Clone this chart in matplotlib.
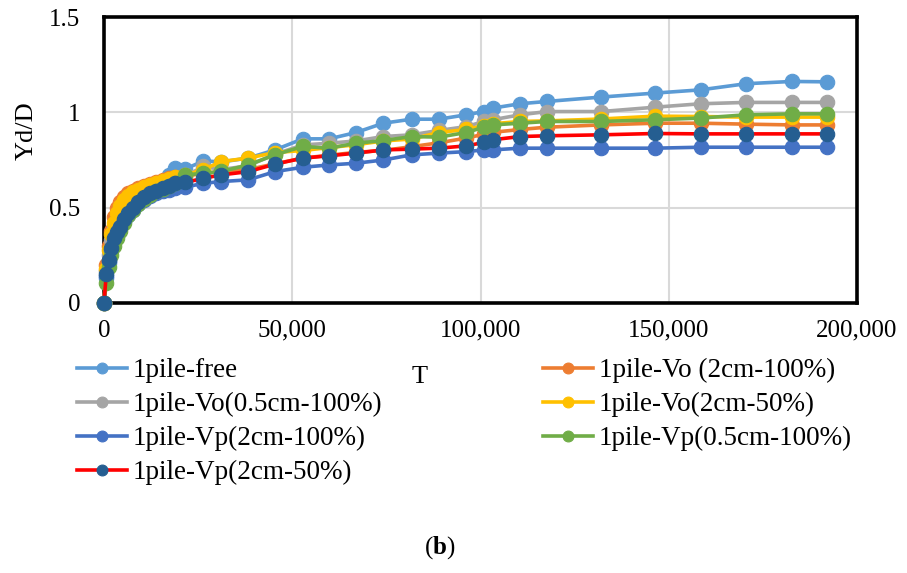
import matplotlib
matplotlib.use("Agg")
import matplotlib.pyplot as plt

plt.rcParams['font.family'] = ['Liberation Serif', 'DejaVu Serif']
plt.rcParams['mathtext.fontset'] = 'custom'
plt.rcParams['mathtext.rm'] = 'Liberation Serif'
plt.rcParams['mathtext.bf'] = 'Liberation Serif:bold'

# Loading cycles
T = [0, 600, 1200, 1900, 2600, 3400, 4300, 5300, 6400, 7600, 9000, 10500,
     12100, 13800, 15600, 17300, 18900, 21500, 26400, 31200, 38300, 45400,
     52800, 59800, 66900, 74200, 81700, 88900, 96200, 100900, 103200, 110500,
     117600, 132000, 146400, 158500, 170500, 182700, 192000]

# Normalised lateral displacement Yd/D for each test
free = [0, 0.13, 0.21, 0.28, 0.33, 0.37, 0.41, 0.45, 0.49, 0.52, 0.55, 0.575,
        0.595, 0.615, 0.64, 0.67, 0.707, 0.702, 0.745, 0.74, 0.76, 0.803,
        0.861, 0.861, 0.894, 0.943, 0.964, 0.964, 0.987, 1.004, 1.022, 1.045,
        1.057, 1.08, 1.101, 1.118, 1.15, 1.162, 1.16]
vo_2cm_100 = [0, 0.2, 0.3, 0.38, 0.45, 0.5, 0.53, 0.555, 0.575, 0.59, 0.605, 0.615,
              0.625, 0.635, 0.645, 0.655, 0.66, 0.665, 0.68, 0.69, 0.70, 0.73,
              0.76, 0.775, 0.79, 0.80, 0.82, 0.84, 0.865, 0.885, 0.895, 0.91,
              0.922, 0.934, 0.943, 0.943, 0.938, 0.934, 0.934]
vo_05cm_100 = [0, 0.17, 0.25, 0.33, 0.39, 0.43, 0.47, 0.50, 0.53, 0.555, 0.575, 0.59,
               0.605, 0.62, 0.635, 0.645, 0.655, 0.665, 0.716, 0.70, 0.72, 0.78,
               0.829, 0.838, 0.85, 0.873, 0.882, 0.905, 0.925, 0.952, 0.961, 0.987,
               1.004, 1.004, 1.027, 1.045, 1.052, 1.052, 1.052]
vo_2cm_50 = [0, 0.18, 0.28, 0.36, 0.42, 0.47, 0.51, 0.54, 0.56, 0.58, 0.595, 0.61,
             0.62, 0.63, 0.64, 0.65, 0.66, 0.67, 0.70, 0.742, 0.76, 0.789,
             0.80, 0.815, 0.83, 0.85, 0.86, 0.894, 0.91, 0.93, 0.94, 0.952,
             0.955, 0.965, 0.98, 0.978, 0.975, 0.975, 0.975]
vp_2cm_100 = [0, 0.14, 0.22, 0.28, 0.32, 0.36, 0.40, 0.43, 0.46, 0.49, 0.52, 0.54,
              0.56, 0.575, 0.585, 0.595, 0.602, 0.607, 0.628, 0.637, 0.646, 0.689,
              0.712, 0.724, 0.733, 0.75, 0.777, 0.786, 0.794, 0.803, 0.803, 0.812,
              0.812, 0.812, 0.812, 0.817, 0.817, 0.817, 0.817]
vp_05cm_100 = [0, 0.105, 0.19, 0.25, 0.30, 0.34, 0.38, 0.42, 0.46, 0.49, 0.52, 0.545,
               0.565, 0.585, 0.60, 0.615, 0.63, 0.672, 0.68, 0.69, 0.724, 0.777,
               0.821, 0.812, 0.838, 0.852, 0.873, 0.87, 0.894, 0.922, 0.934, 0.943,
               0.952, 0.952, 0.961, 0.97, 0.987, 0.992, 0.992]
vp_2cm_50 = [0, 0.152, 0.226, 0.29, 0.34, 0.37, 0.40, 0.44, 0.47, 0.50, 0.53, 0.555,
             0.575, 0.59, 0.605, 0.615, 0.628, 0.632, 0.654, 0.672, 0.689, 0.728,
             0.76, 0.772, 0.786, 0.803, 0.807, 0.812, 0.824, 0.842, 0.856, 0.873,
             0.877, 0.882, 0.889, 0.887, 0.887, 0.887, 0.887]

series = [
    ("1pile-free", free, "#5B9BD5", "#5B9BD5"),
    ("1pile-Vo (2cm-100%)", vo_2cm_100, "#ED7D31", "#ED7D31"),
    ("1pile-Vo(0.5cm-100%)", vo_05cm_100, "#A5A5A5", "#A5A5A5"),
    ("1pile-Vo(2cm-50%)", vo_2cm_50, "#FFC000", "#FFC000"),
    ("1pile-Vp(2cm-100%)", vp_2cm_100, "#4472C4", "#4472C4"),
    ("1pile-Vp(0.5cm-100%)", vp_05cm_100, "#70AD47", "#70AD47"),
    ("1pile-Vp(2cm-50%)", vp_2cm_50, "#FF0000", "#255E91"),
]

W, H = 907, 573
fig = plt.figure(figsize=(W / 100, H / 100), dpi=100)
ax = fig.add_axes([104 / W, 1 - 303 / H, 753 / W, 286 / H])

handles = {}
for name, ys, lc, mc in series:
    (ln,) = ax.plot(T, ys, color=lc, lw=2.6, marker="o", markersize=10.4,
                    markerfacecolor=mc, markeredgecolor=mc, markeredgewidth=0.8,
                    clip_on=False, zorder=3, label=name)
    handles[name] = ln

ax.set_xlim(0, 200000)
ax.set_ylim(0, 1.5)
ax.set_xticks([0, 50000, 100000, 150000, 200000])
ax.set_xticklabels(["0", "50,000", "100,000", "150,000", "200,000"])
ax.set_yticks([0, 0.5, 1, 1.5])
ax.set_yticklabels(["0", "0.5", "1", "1.5"])
ax.tick_params(length=0, labelsize=18)
ax.tick_params(axis="x", pad=12)
ax.tick_params(axis="y", pad=17)
ax.grid(True, color="#D9D9D9", lw=1.5)
ax.set_axisbelow(True)
for sp in ax.spines.values():
    sp.set_color("black")
    sp.set_linewidth(2.6)
    sp.set_zorder(2.5)

fig.text(27 / W, 1 - 131 / H, "Yd/D", rotation=90, ha="center", va="center", fontsize=19)
fig.text(420 / W, 1 - 377 / H, "T", ha="center", va="center", fontsize=19)
fig.text(440 / W, 1 - 548 / H, r"($\mathbf{b}$)", ha="center", va="center", fontsize=18)

order = ["1pile-free", "1pile-Vo(0.5cm-100%)", "1pile-Vp(2cm-100%)", "1pile-Vp(2cm-50%)",
         "1pile-Vo (2cm-100%)", "1pile-Vo(2cm-50%)", "1pile-Vp(0.5cm-100%)"]
leg = fig.legend([handles[k] for k in order], order, ncol=2,
                 loc="upper left", bbox_to_anchor=(77 / W, 1 - 358 / H),
                 frameon=False, fontsize=19.5, handlelength=1.85, handletextpad=0.2,
                 labelspacing=0.33, columnspacing=5.95, markerscale=0.75,
                 borderaxespad=0, borderpad=0)

fig.savefig("out.png", dpi=100)
